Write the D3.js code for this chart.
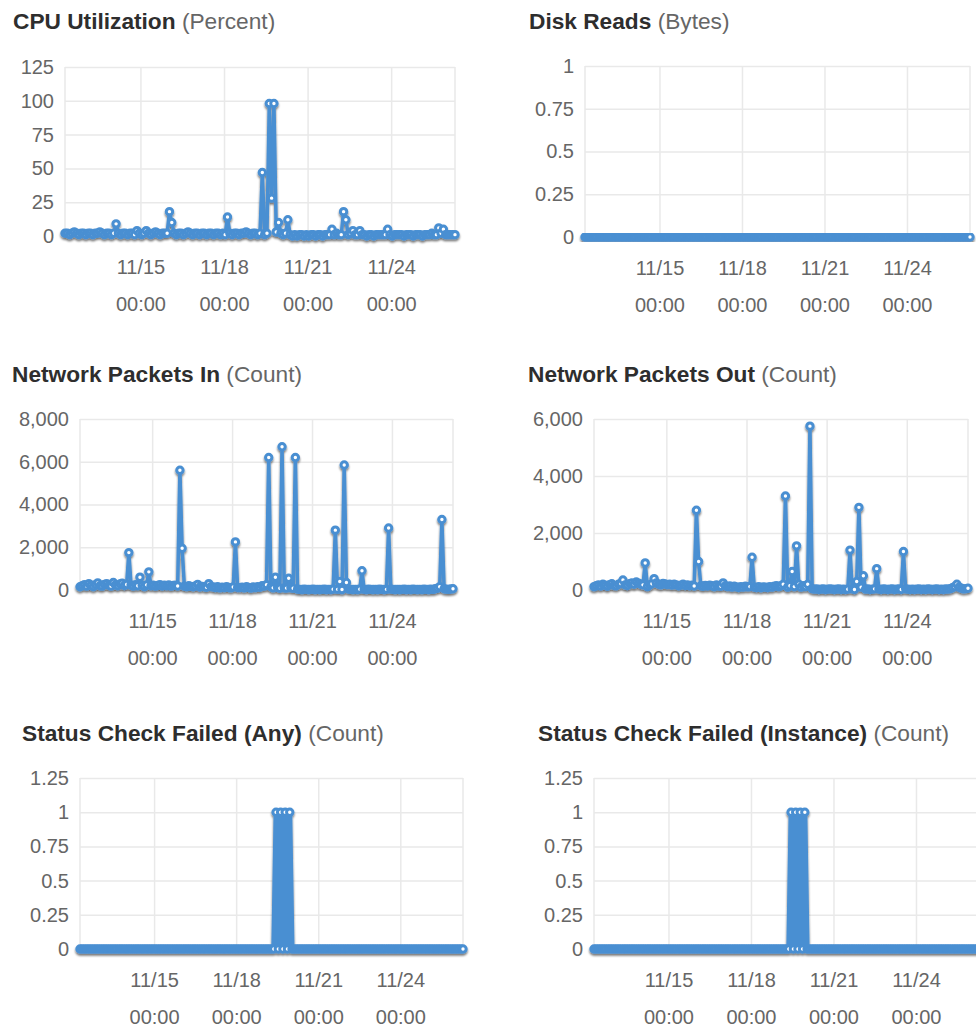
<!DOCTYPE html>
<html>
<head>
<meta charset="utf-8">
<script src="https://cdn.jsdelivr.net/npm/d3@7"></script>
<style>
  html, body { margin: 0; padding: 0; background: #fff; }
  svg { display: block; font-family: "Liberation Sans", Arial, sans-serif; }
</style>
</head>
<body>
<svg id="chart" width="976" height="1030"></svg>
<script>
// ---------------- DATA ----------------
const startTime = "2019-11-12 07:00";
const stepHours = 2;
const xTickDates = ["2019-11-15 00:00", "2019-11-18 00:00", "2019-11-21 00:00", "2019-11-24 00:00"];

const cpuTicks = [0, 25, 50, 75, 100, 125];
const diskTicks = [0, 0.25, 0.5, 0.75, 1];
const netInTicks = [0, 2000, 4000, 6000, 8000];
const netOutTicks = [0, 2000, 4000, 6000];
const statusTicks = [0, 0.25, 0.5, 0.75, 1, 1.25];

const cpuValues = [
  2,2,1,2,3,2,1,2,2,1,2,2,
  1,2,2,3,2,1,2,2,1,2,9,2,
  1,2,2,1,2,2,1,4,2,1,2,4,
  2,1,2,3,2,1,2,2,2,18,10,2,
  1,2,2,1,2,3,2,1,2,2,1,2,
  2,1,2,2,1,2,2,1,2,1,14,2,
  1,2,2,1,2,2,3,2,1,2,2,1,
  2,47,1,2,98,28,98,3,10,2,1,2,
  12,1,0,1,0,1,1,0,1,0,1,1,
  0,1,1,0,1,1,1,5,1,2,1,1,
  18,12,1,2,4,1,1,4,1,1,0,1,
  1,0,1,1,1,1,1,5,1,0,1,1,
  1,1,0,1,1,1,0,1,1,1,0,1,
  1,1,2,1,1,6,2,5,1,1,1,1,
  1
];

const diskReadValues = [
  0,0,0,0,0,0,0,0,0,0,0,0,
  0,0,0,0,0,0,0,0,0,0,0,0,
  0,0,0,0,0,0,0,0,0,0,0,0,
  0,0,0,0,0,0,0,0,0,0,0,0,
  0,0,0,0,0,0,0,0,0,0,0,0,
  0,0,0,0,0,0,0,0,0,0,0,0,
  0,0,0,0,0,0,0,0,0,0,0,0,
  0,0,0,0,0,0,0,0,0,0,0,0,
  0,0,0,0,0,0,0,0,0,0,0,0,
  0,0,0,0,0,0,0,0,0,0,0,0,
  0,0,0,0,0,0,0,0,0,0,0,0,
  0,0,0,0,0,0,0,0,0,0,0,0,
  0,0,0,0,0,0,0,0,0,0,0,0,
  0,0,0,0,0,0,0,0,0,0,0,0,
  0
];

const netInValues = [
  150,200,250,180,300,220,160,250,330,200,180,260,
  300,220,180,350,240,200,280,320,210,260,1750,230,
  180,250,200,600,220,160,240,850,200,230,180,210,
  250,190,220,200,240,180,210,230,190,5600,1950,180,
  160,200,170,150,190,260,140,170,150,130,300,160,
  140,120,150,100,130,110,160,120,100,140,2250,120,
  110,130,100,150,120,90,140,110,160,130,200,180,
  250,6200,150,100,600,120,80,6700,100,90,550,100,
  80,6200,40,30,20,40,30,20,30,40,20,30,
  20,30,40,20,30,20,40,2800,30,400,20,5850,
  350,40,30,20,30,20,40,900,30,20,40,30,
  20,30,20,40,30,20,30,2900,40,30,20,30,
  20,30,40,20,30,20,40,30,20,30,20,40,
  30,20,40,30,60,80,150,3300,60,40,30,50,
  60
];

const netOutValues = [
  120,150,180,140,200,170,130,190,220,160,150,200,
  230,350,180,160,220,250,200,280,240,200,180,950,
  120,180,220,400,250,200,180,230,210,190,200,170,
  200,180,150,170,200,160,180,150,170,140,2800,1000,
  150,130,160,140,170,150,120,180,140,130,250,150,
  120,140,100,130,110,90,120,100,130,110,120,1150,
  100,90,120,80,110,100,90,120,100,130,150,120,
  150,200,3300,100,150,650,120,1550,200,100,150,120,
  200,5750,50,30,40,20,30,40,20,30,40,30,
  20,30,40,20,30,20,30,1400,40,20,300,2900,
  100,500,30,40,20,30,40,750,30,20,40,30,
  20,30,40,20,30,40,20,1350,40,30,20,30,
  20,30,40,20,30,20,40,30,20,30,40,20,
  30,20,40,30,50,80,120,200,100,60,40,50,
  60
];

const statusAnyValues = [
  0,0,0,0,0,0,0,0,0,0,0,0,
  0,0,0,0,0,0,0,0,0,0,0,0,
  0,0,0,0,0,0,0,0,0,0,0,0,
  0,0,0,0,0,0,0,0,0,0,0,0,
  0,0,0,0,0,0,0,0,0,0,0,0,
  0,0,0,0,0,0,0,0,0,0,0,0,
  0,0,0,0,0,0,0,0,0,0,0,0,
  0,0,1,0,1,0,1,0,1,0,0,0,
  0,0,0,0,0,0,0,0,0,0,0,0,
  0,0,0,0,0,0,0,0,0,0,0,0,
  0,0,0,0,0,0,0,0,0,0,0,0,
  0,0,0,0,0,0,0,0,0,0,0,0,
  0,0,0,0,0,0,0,0,0,0,0,0,
  0,0,0,0,0,0,0,0,0,0,0,0,
  0
];

const statusInstanceValues = [
  0,0,0,0,0,0,0,0,0,0,0,0,
  0,0,0,0,0,0,0,0,0,0,0,0,
  0,0,0,0,0,0,0,0,0,0,0,0,
  0,0,0,0,0,0,0,0,0,0,0,0,
  0,0,0,0,0,0,0,0,0,0,0,0,
  0,0,0,0,0,0,0,0,0,0,0,0,
  0,0,0,0,0,0,0,0,0,0,0,0,
  0,0,1,0,1,0,1,0,1,0,0,0,
  0,0,0,0,0,0,0,0,0,0,0,0,
  0,0,0,0,0,0,0,0,0,0,0,0,
  0,0,0,0,0,0,0,0,0,0,0,0,
  0,0,0,0,0,0,0,0,0,0,0,0,
  0,0,0,0,0,0,0,0,0,0,0,0,
  0,0,0,0,0,0,0,0,0,0,0,0,
  0
];

// ---------------- LAYOUT ----------------
const panels = [
  { title: "CPU Utilization", unit: "(Percent)", values: cpuValues, ticks: cpuTicks, fmt: d3.format("d"),
    tx: 13, ty: 29, left: 65, right: 455, top: 67, bottom: 236, lw: 3.5 },
  { title: "Disk Reads", unit: "(Bytes)", values: diskReadValues, ticks: diskTicks, fmt: d => String(d),
    tx: 529, ty: 29, left: 585, right: 970, top: 66, bottom: 237, lw: 3.5 },
  { title: "Network Packets In", unit: "(Count)", values: netInValues, ticks: netInTicks, fmt: d3.format(","),
    tx: 12, ty: 382, left: 80, right: 453, top: 419, bottom: 590, lw: 3.5 },
  { title: "Network Packets Out", unit: "(Count)", values: netOutValues, ticks: netOutTicks, fmt: d3.format(","),
    tx: 528, ty: 382, left: 594, right: 968, top: 419, bottom: 590, lw: 3.5 },
  { title: "Status Check Failed (Any)", unit: "(Count)", values: statusAnyValues, ticks: statusTicks, fmt: d => String(d),
    tx: 22, ty: 741, left: 80, right: 463, top: 778, bottom: 949, lw: 5 },
  { title: "Status Check Failed (Instance)", unit: "(Count)", values: statusInstanceValues, ticks: statusTicks, fmt: d => String(d),
    tx: 538, ty: 741, left: 594, right: 979, top: 778, bottom: 949, lw: 5 }
];

const LINE_COLOR = "#4a8fd2";
const GRID_COLOR = "#e9e9e9";
const TEXT_COLOR = "#666";
const TITLE_COLOR = "#2e2e2e";

const parse = d3.timeParse("%Y-%m-%d %H:%M");
const t0 = parse(startTime);
const tickDates = xTickDates.map(parse);
const fmtDay = d3.timeFormat("%m/%d");
const fmtTime = d3.timeFormat("%H:%M");

const svg = d3.select("#chart");
const defs = svg.append("defs");
const f = defs.append("filter").attr("id", "shadow")
  .attr("x", "-5%").attr("y", "-5%").attr("width", "110%").attr("height", "120%");
f.append("feDropShadow").attr("dx", 0).attr("dy", 2).attr("stdDeviation", 1)
  .attr("flood-color", "#000").attr("flood-opacity", 0.55);

panels.forEach(p => {
  const data = p.values.map((v, i) => ({ t: d3.timeHour.offset(t0, i * stepHours), v }));
  const x = d3.scaleTime().domain(d3.extent(data, d => d.t)).range([p.left, p.right]);
  const y = d3.scaleLinear().domain([0, d3.max(p.ticks)]).range([p.bottom, p.top]);

  const g = svg.append("g");

  // title
  const title = g.append("text").attr("x", p.tx).attr("y", p.ty).attr("font-size", 22.7);
  title.append("tspan").attr("font-weight", "bold").attr("fill", TITLE_COLOR).text(p.title + " ");
  title.append("tspan").attr("fill", TEXT_COLOR).text(p.unit);

  // horizontal grid + y labels
  const yAxis = d3.axisLeft(y).tickValues(p.ticks).tickFormat(p.fmt)
    .tickSize(-(p.right - p.left)).tickPadding(11);
  const ya = g.append("g").attr("transform", `translate(${p.left},0)`).call(yAxis);
  ya.select(".domain").remove();
  ya.selectAll(".tick line").attr("stroke", GRID_COLOR).attr("stroke-width", 1.5);
  ya.selectAll(".tick text").attr("fill", TEXT_COLOR).attr("font-size", 20)
    .attr("font-family", "Liberation Sans, Arial, sans-serif");

  // vertical grid + x labels
  const xAxis = d3.axisBottom(x).tickValues(tickDates).tickFormat("")
    .tickSize(-(p.bottom - p.top));
  const xa = g.append("g").attr("transform", `translate(0,${p.bottom})`).call(xAxis);
  xa.select(".domain").remove();
  xa.selectAll(".tick line").attr("stroke", GRID_COLOR).attr("stroke-width", 1.5);
  const xt = xa.selectAll(".tick").append("text")
    .attr("fill", TEXT_COLOR).attr("font-size", 20).attr("text-anchor", "middle")
    .attr("font-family", "Liberation Sans, Arial, sans-serif");
  xt.append("tspan").attr("x", 0).attr("y", 38).text(d => fmtDay(d));
  xt.append("tspan").attr("x", 0).attr("y", 75).text(d => fmtTime(d));

  // plot border (left / right edges)
  g.append("g").selectAll("line").data([p.left, p.right]).join("line")
    .attr("x1", d => d).attr("x2", d => d).attr("y1", p.top).attr("y2", p.bottom)
    .attr("stroke", GRID_COLOR).attr("stroke-width", 1.5);

  // series
  const sg = g.append("g").attr("filter", "url(#shadow)");
  const line = d3.line().x(d => x(d.t)).y(d => y(d.v));
  sg.append("path").datum(data).attr("d", line)
    .attr("fill", "none").attr("stroke", LINE_COLOR).attr("stroke-width", p.lw)
    .attr("stroke-linejoin", "round");
  sg.selectAll("circle").data(data).join("circle")
    .attr("cx", d => x(d.t)).attr("cy", d => y(d.v)).attr("r", 3.2)
    .attr("fill", "#fff").attr("stroke", LINE_COLOR).attr("stroke-width", 3);
});
</script>
</body>
</html>
